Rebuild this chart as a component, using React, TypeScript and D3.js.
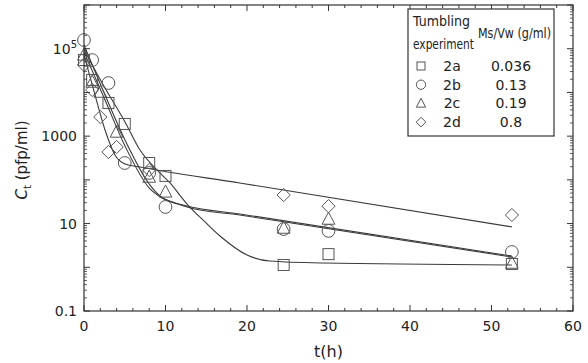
import * as React from "react";
import * as d3 from "d3";

// measured points, t in hours, Ct in pfp/ml
const tA = [0, 1, 3, 5, 8, 10, 24.5, 30, 52.5];
const cA = [5.5e4, 1.93e4, 5740, 1900, 243, 123, 1.13, 2.0, 1.19];
const tB = [0, 1, 3, 5, 8, 10, 24.5, 30, 52.5];
const cB = [1.58e5, 5.5e4, 1.64e4, 243, 144, 24, 7.5, 6.8, 2.24];
const tC = [0, 1, 2, 4, 8, 10, 24.5, 30, 52.5];
const cC = [7.2e4, 1.73e4, 1.02e4, 1245, 116, 53, 7.9, 12.7, 1.25];
const tD = [0, 1, 2, 3, 4, 8, 24.5, 30, 52.5];
const cD = [4.25e4, 1.14e4, 2740, 434, 565, 168, 45, 25, 15.7];

// fitted curves
const fitTA = [0, 2.58, 5.03, 6.87, 8.71, 10.55, 12.64, 14.85, 16.69, 20.0, 22.8, 29.3, 52.5];
const fitCA = [9.36e4, 1.26e4, 2110, 482, 187, 84.8, 28, 10.9, 5.2, 1.91, 1.39, 1.25, 1.13];
const fitTB = [0, 2.58, 5.03, 8.1, 9.33, 11.2, 12.64, 19.1, 52.5];
const fitCB = [1.22e5, 8750, 817, 76, 42.8, 29.6, 23.9, 15.7, 1.72];
const fitTC = [0, 2.58, 5.03, 8.1, 9.57, 12.64, 19.1, 52.5];
const fitCC = [8.4e4, 6720, 595, 61.8, 38.5, 25.2, 16.6, 1.81];
const fitTD = [0, 1.35, 2.58, 3.8, 5.03, 6.87, 19.1, 52.5];
const fitCD = [7.2e4, 8750, 1380, 371, 231, 197, 85, 8.4];

const experiments = ["2a", "2b", "2c", "2d"];
const ratios = ["0.036", "0.13", "0.19", "0.8"];
const symbols = ["square", "circle", "triangle", "diamond"];

const xTicks = [0, 10, 20, 30, 40, 50, 60];
const yLabelTicks = [0.1, 10, 1000, 1e5];

const W = 588;
const H = 363;
const margin = { top: 5, right: 15, bottom: 52, left: 84 };
const font = "'DejaVu Sans', Verdana, sans-serif";
const ink = "#333";

function Marker({ kind, x, y, s }) {
  const st = { fill: "none", stroke: "#555", strokeWidth: 1 };
  if (kind === "square")
    return <rect x={x - s / 2} y={y - s / 2} width={s} height={s} {...st} />;
  if (kind === "circle") return <circle cx={x} cy={y} r={s * 0.58} {...st} />;
  if (kind === "triangle") {
    const h = s * 1.05;
    return (
      <path
        d={`M${x},${y - h * 0.6}L${x + s * 0.58},${y + h * 0.45}L${x - s * 0.58},${y + h * 0.45}Z`}
        {...st}
      />
    );
  }
  const r = s * 0.6;
  return <path d={`M${x},${y - r}L${x + r},${y}L${x},${y + r}L${x - r},${y}Z`} {...st} />;
}

export default function App() {
  const x = d3.scaleLinear().domain([0, 60]).range([margin.left, W - margin.right]);
  const y = d3.scaleLog().domain([0.1, 1e6]).range([H - margin.bottom, margin.top]);
  const [x0, x1] = x.range();
  const [y0, y1] = y.range();

  const series = [
    { t: tA, c: cA, ft: fitTA, fc: fitCA },
    { t: tB, c: cB, ft: fitTB, fc: fitCB },
    { t: tC, c: cC, ft: fitTC, fc: fitCC },
    { t: tD, c: cD, ft: fitTD, fc: fitCD },
  ];

  const line = d3
    .line<[number, number]>()
    .x((d) => x(d[0]))
    .y((d) => y(d[1]))
    .curve(d3.curveMonotoneX);

  const xMinor = d3.range(0, 61, 2);
  const decades = d3.range(-1, 7).map((e) => Math.pow(10, e));
  const yMinor = [];
  decades.slice(0, -1).forEach((d) => {
    for (let k = 2; k <= 9; k++) yMinor.push(d * k);
  });

  return (
    <svg
      width={W}
      height={H}
      style={{ position: "absolute", left: 0, top: 0, background: "#fff" }}
      fontFamily={font}
    >
      <rect x={0} y={0} width={W} height={H} fill="#fff" />

      {/* fitted curves */}
      {series.map((s, i) => (
        <path
          key={"fit" + i}
          d={line(s.ft.map((t, j) => [t, s.fc[j]]))}
          fill="none"
          stroke="#3a3a3a"
          strokeWidth={1.1}
        />
      ))}

      {/* data points */}
      {series.map((s, i) =>
        s.t.map((t, j) => (
          <Marker key={i + "-" + j} kind={symbols[i]} x={x(t)} y={y(s.c[j])} s={11} />
        ))
      )}

      {/* frame and inward ticks */}
      <rect x={x0} y={y1} width={x1 - x0} height={y0 - y1} fill="none" stroke={ink} strokeWidth={1.2} />
      {xMinor.map((v) => {
        const len = v % 10 === 0 ? 6 : 3;
        return (
          <g key={"xt" + v} stroke={ink} strokeWidth={1}>
            <line x1={x(v)} x2={x(v)} y1={y0} y2={y0 - len} />
            <line x1={x(v)} x2={x(v)} y1={y1} y2={y1 + len} />
          </g>
        );
      })}
      {decades.map((v) => (
        <g key={"yt" + v} stroke={ink} strokeWidth={1}>
          <line x1={x0} x2={x0 + 6} y1={y(v)} y2={y(v)} />
          <line x1={x1} x2={x1 - 6} y1={y(v)} y2={y(v)} />
        </g>
      ))}
      {yMinor.map((v) => (
        <g key={"ym" + v} stroke={ink} strokeWidth={0.8}>
          <line x1={x0} x2={x0 + 3} y1={y(v)} y2={y(v)} />
          <line x1={x1} x2={x1 - 3} y1={y(v)} y2={y(v)} />
        </g>
      ))}

      {/* tick labels */}
      {xTicks.map((v) => (
        <text key={"xl" + v} x={x(v)} y={y0 + 20} textAnchor="middle" fontSize={14} fill="#222">
          {v}
        </text>
      ))}
      {yLabelTicks.map((v) => (
        <text key={"yl" + v} x={x0 - 7} y={y(v) + 5} textAnchor="end" fontSize={14} fill="#222">
          {v === 1e5 ? (
            <>
              <tspan>10</tspan>
              <tspan dy={-6} fontSize={10}>5</tspan>
            </>
          ) : (
            String(v)
          )}
        </text>
      ))}

      {/* axis titles */}
      <text x={(x0 + x1) / 2} y={H - 6} textAnchor="middle" fontSize={16} fill="#222">
        t(h)
      </text>
      <text
        transform={`translate(27, ${(y0 + y1) / 2 + 2}) rotate(-90)`}
        textAnchor="middle"
        fontSize={15}
        fill="#222"
      >
        <tspan fontStyle="italic">C</tspan>
        <tspan dy={4} fontSize={10}>t</tspan>
        <tspan dy={-4}>{" (pfp/ml)"}</tspan>
      </text>

      {/* legend table */}
      <g>
        <rect x={408} y={9} width={146} height={127} fill="#fff" stroke={ink} strokeWidth={1.2} />
        <text x={413} y={26} fontSize={13.5} fill="#222" textLength={57} lengthAdjust="spacingAndGlyphs">
          Tumbling
        </text>
        <text x={413} y={49} fontSize={13.5} fill="#222" textLength={61} lengthAdjust="spacingAndGlyphs">
          experiment
        </text>
        <text x={478} y={38} fontSize={13.5} fill="#222" textLength={73} lengthAdjust="spacingAndGlyphs">
          Ms/Vw (g/ml)
        </text>
        {experiments.map((e, i) => {
          const ry = 66 + i * 18.7;
          return (
            <g key={"lg" + e}>
              <Marker kind={symbols[i]} x={421} y={ry} s={8} />
              <text x={452} y={ry + 5} fontSize={14} textAnchor="middle" fill="#222">{e}</text>
              <text x={511} y={ry + 5} fontSize={14} textAnchor="middle" fill="#222">{ratios[i]}</text>
            </g>
          );
        })}
      </g>
    </svg>
  );
}
